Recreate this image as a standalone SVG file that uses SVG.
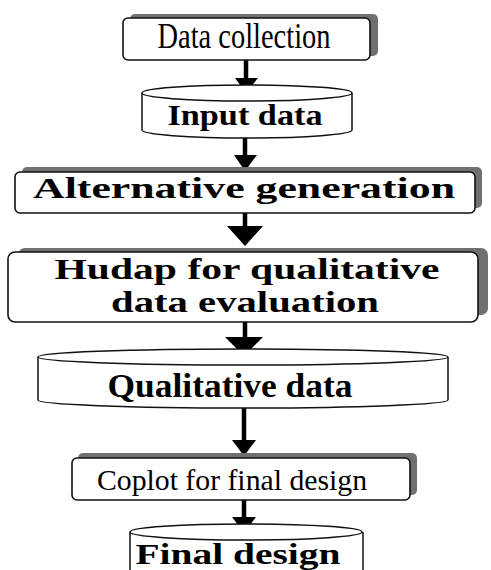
<svg xmlns="http://www.w3.org/2000/svg" width="491" height="570" viewBox="0 0 491 570">
<defs>
<style>
.shadow{fill:#707070;}
.box{fill:#fff;stroke:#111;stroke-width:1.6;}
.cyl{fill:#fff;stroke:#111;stroke-width:1.5;}
.t{font-family:"Liberation Serif","Times New Roman",serif;fill:#000;text-anchor:middle;}
.b{font-weight:bold;}
.shaft{stroke:#000;stroke-width:4.5;fill:none;}
.head{fill:#000;}
</style>
</defs>
<rect width="491" height="570" fill="#fff"/>
<g id="connectors">
  <line class="shaft" x1="246" y1="60" x2="246" y2="80"/>
  <polygon class="head" points="235,78 258,78 246,93"/>
  <line class="shaft" x1="245" y1="137" x2="245" y2="157"/>
  <polygon class="head" points="234,155 257,155 245,171"/>
  <line class="shaft" x1="245" y1="213" x2="245" y2="228"/>
  <polygon class="head" points="227,226 263,226 245,246"/>
  <line class="shaft" x1="245" y1="322" x2="245" y2="339"/>
  <polygon class="head" points="225,337 263,337 244,356"/>
  <line class="shaft" x1="244" y1="407" x2="244" y2="442"/>
  <polygon class="head" points="232,440 256,440 244,456"/>
  <line class="shaft" x1="244" y1="500" x2="244" y2="519"/>
  <polygon class="head" points="232,517 256,517 244,533"/>
</g>
<g id="n1">
  <rect class="shadow" x="130" y="14" width="248" height="42" rx="5"/>
  <rect class="box" x="123" y="18" width="247" height="42" rx="5"/>
  <text class="t" x="244" y="48" font-size="35" textLength="173" lengthAdjust="spacingAndGlyphs">Data collection</text>
</g>
<g id="n2">
  <path class="cyl" d="M142,93 L142,130 A105,8 0 0 0 352,130 L352,93"/>
  <ellipse class="cyl" cx="247" cy="93" rx="105" ry="8"/>
  <text class="t b" x="245" y="125" font-size="30" textLength="155" lengthAdjust="spacingAndGlyphs">Input data</text>
</g>
<g id="n3">
  <rect class="shadow" x="22" y="167" width="460" height="41" rx="5"/>
  <rect class="box" x="15" y="172" width="460" height="41" rx="5"/>
  <text class="t b" x="244" y="198" font-size="29" textLength="422" lengthAdjust="spacingAndGlyphs">Alternative generation</text>
</g>
<g id="n4">
  <rect class="shadow" x="18" y="248" width="470" height="67" rx="7"/>
  <rect class="box" x="8" y="252" width="470" height="70" rx="7"/>
  <text class="t b" font-size="29"><tspan x="247" y="279" textLength="385" lengthAdjust="spacingAndGlyphs">Hudap for qualitative</tspan><tspan x="245" y="312" textLength="268" lengthAdjust="spacingAndGlyphs">data evaluation</tspan></text>
</g>
<g id="n5">
  <path class="cyl" d="M38,357 L38,400 A205,8 0 0 0 448,400 L448,357"/>
  <ellipse class="cyl" cx="243" cy="357" rx="205" ry="8"/>
  <text class="t b" x="230" y="397" font-size="33" textLength="245" lengthAdjust="spacingAndGlyphs">Qualitative data</text>
</g>
<g id="n6">
  <rect class="shadow" x="78" y="453" width="339" height="42" rx="5"/>
  <rect class="box" x="72" y="458" width="338" height="42" rx="5"/>
  <text class="t" x="232" y="490" font-size="30" textLength="270" lengthAdjust="spacingAndGlyphs">Coplot for final design</text>
</g>
<g id="n7">
  <path class="cyl" d="M130,532 L130,580 M363,580 L363,532"/>
  <ellipse class="cyl" cx="246" cy="532" rx="116" ry="8"/>
  <text class="t b" x="238" y="564" font-size="30" textLength="205" lengthAdjust="spacingAndGlyphs">Final design</text>
</g>
</svg>
